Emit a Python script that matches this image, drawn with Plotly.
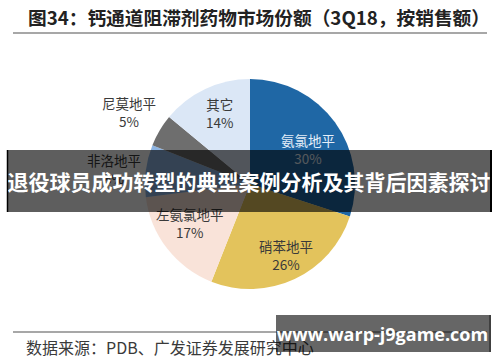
import math
import plotly.graph_objects as go

# ---- data ----
drugs = ["氨氯地平", "硝苯地平", "左氨氯地平", "非洛地平", "尼莫地平", "其它"]
shares = [30, 26, 17, 8, 5, 14]
title_text = "图34：钙通道阻滞剂药物市场份额（3Q18，按销售额）"
source_text = "数据来源：PDB、广发证券发展研究中心"
banner_text = "退役球员成功转型的典型案例分析及其背后因素探讨"
watermark_text = "www.warp-j9game.com"

# ---- style ----
W, H = 500, 362
colors = ["#1f67a5", "#e3c35c", "#f9e3d9", "#8db4e2", "#6e6e6e", "#dbe7f6"]
label_colors = ["#e4eef9", "#3a3a3a", "#3a3a3a", "#3a3a3a", "#3a3a3a", "#3a3a3a"]
label_r = [0.64, 0.76, 0.68, 1.30, 1.34, 0.74]
label_dtheta = [5, -2, 5, -1, 0, 2]
CX, CY, R = 250, 184, 105
FONT = "Noto Sans CJK SC"

def px(x):
    return x / W

def py(y):
    return 1 - y / H

fig = go.Figure()
fig.add_trace(go.Pie(
    labels=drugs, values=shares, sort=False, direction="clockwise", rotation=0,
    marker=dict(colors=colors, line=dict(width=0)),
    textinfo="none", hoverinfo="label+percent", showlegend=False,
    domain=dict(x=[px(CX - R), px(CX + R)], y=[py(CY + R), py(CY - R)]),
))

annotations = []
total = sum(shares)
cum = 0
for i, (name, v) in enumerate(zip(drugs, shares)):
    mid = (cum + v / 2) / total * 360 + label_dtheta[i]
    cum += v
    rr = label_r[i] * R
    x = CX + rr * math.sin(math.radians(mid))
    y = CY - rr * math.cos(math.radians(mid))
    annotations.append(dict(
        x=px(x), y=py(y), xref="paper", yref="paper", showarrow=False,
        xanchor="center", yanchor="middle",
        text=f"{name}<br>{round(v / total * 100)}%", align="center",
        font=dict(family=FONT, size=13.5, color=label_colors[i]),
    ))

# title
annotations.append(dict(
    x=px(26), y=py(16), xref="paper", yref="paper", xanchor="left", yanchor="middle",
    showarrow=False, text=f"<b>{title_text}</b>",
    font=dict(family=FONT, size=18.7, color="#222222"),
))
# source
annotations.append(dict(
    x=px(24), y=py(347), xref="paper", yref="paper", xanchor="left", yanchor="middle",
    showarrow=False, text=source_text,
    font=dict(family=FONT, size=16, color="#3a3a3a"),
))
# banner overlay
annotations.append(dict(
    x=px(249), y=py(181), xref="paper", yref="paper", xanchor="center", yanchor="middle",
    showarrow=False, text=f"<b>{banner_text}</b>", width=482, height=62,
    bgcolor="rgba(0,0,0,0.63)", borderpad=0, borderwidth=0,
    font=dict(family=FONT, size=21, color="#ffffff"),
))
# watermark box
annotations.append(dict(
    x=px(382.5), y=py(333.5), xref="paper", yref="paper", xanchor="center", yanchor="middle",
    showarrow=False, text=f"<b>{watermark_text}</b>", width=213, height=37,
    bgcolor="rgba(0,0,0,0.6)", borderpad=0, borderwidth=0,
    font=dict(family="Open Sans", size=18, color="#ffffff"),
))

shapes = [
    dict(type="line", xref="paper", yref="paper", x0=px(13), x1=px(487), y0=py(33), y1=py(33),
         line=dict(color="#8a8a8a", width=1.5)),
    dict(type="line", xref="paper", yref="paper", x0=px(13), x1=px(487), y0=py(332), y1=py(332),
         line=dict(color="#8a8a8a", width=1.5)),
    dict(type="line", xref="paper", yref="paper", x0=px(7.5), x1=px(7.5), y0=py(150), y1=py(212),
         line=dict(color="#000000", width=1.5)),
    dict(type="line", xref="paper", yref="paper", x0=px(491), x1=px(491), y0=py(150), y1=py(212),
         line=dict(color="#000000", width=2)),
    dict(type="line", xref="paper", yref="paper", x0=px(490), x1=px(490), y0=py(315), y1=py(352),
         line=dict(color="#000000", width=1.5)),
]

fig.update_layout(
    width=W, height=H, margin=dict(l=0, r=0, t=0, b=0),
    paper_bgcolor="#ffffff", plot_bgcolor="#ffffff",
    annotations=annotations, shapes=shapes,
)
fig.write_html("out.html")
